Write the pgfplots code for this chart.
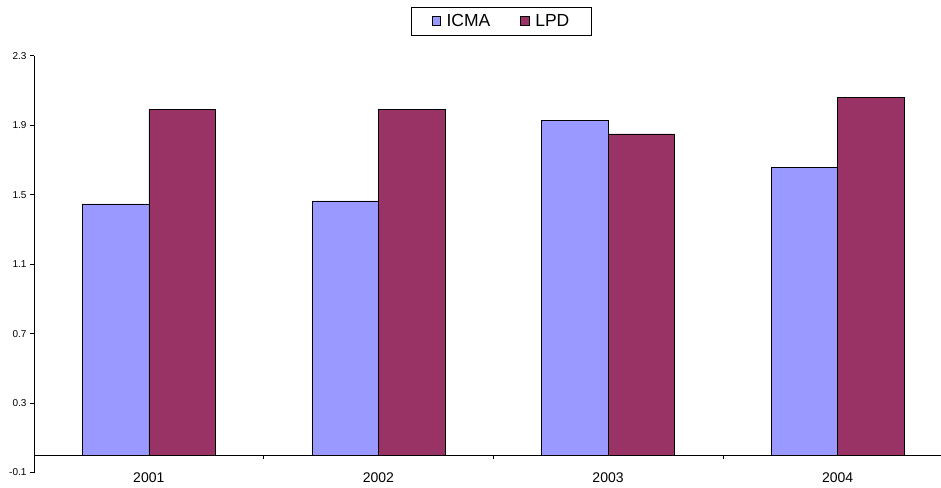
\documentclass[border=0pt]{standalone}
\usepackage{pgfplots}
\pgfplotsset{compat=1.18}
\usepackage{fontspec}
\setmainfont{Liberation Sans}
\definecolor{icma}{HTML}{9999FF}
\definecolor{lpd}{HTML}{993366}
\begin{document}
\begin{tikzpicture}
\begin{axis}[
  scale only axis, width=907pt, height=416.8pt,
  at={(0,0)}, anchor=south west,
  xmin=0.5, xmax=4.45, ymin=-0.1, ymax=2.3,
  axis x line=middle, axis y line=left,
  axis line style={-, line width=0.7pt},
  tick align=outside, major tick length=4pt,
  tick style={line width=0.6pt, black},
  ytick={-0.1,0.3,0.7,1.1,1.5,1.9,2.3},
  yticklabel style={font=\fontsize{10}{11}\selectfont, /pgf/number format/.cd, fixed, fixed zerofill, precision=1, assume math mode=true},
  xtick={1.5,2.5,3.5}, xticklabels={},
  extra x ticks={1,2,3,4},
  extra x tick labels={2001,2002,2003,2004},
  extra x tick style={major tick length=0pt, xticklabel style={font=\fontsize{14}{16}\selectfont, yshift=-14pt}},
  ybar, bar width=0.289,
  legend columns=2,
  legend style={at={(rel axis cs:0.5154,1.0833)}, anchor=center, draw=black, line width=0.6pt,
    font=\fontsize{17.5}{19}\selectfont, inner xsep=20pt, inner ysep=5pt,
    /tikz/every odd column/.append style={column sep=4pt},
    /tikz/every even column/.append style={column sep=28pt}},
]
\addplot[fill=icma, draw=black, line width=0.5pt, bar shift=-0.1445,
  legend image code/.code={\draw[fill=icma,draw=black,line width=0.5pt] (0pt,-4.5pt) rectangle (8.5pt,4.5pt);}]
  coordinates {(1,1.447) (2,1.464) (3,1.927) (4,1.655)};
\addplot[fill=lpd, draw=black, line width=0.5pt, bar shift=0.1445,
  legend image code/.code={\draw[fill=lpd,draw=black,line width=0.5pt] (0pt,-4.5pt) rectangle (8.5pt,4.5pt);}]
  coordinates {(1,1.99) (2,1.99) (3,1.85) (4,2.058)};
\legend{ICMA,LPD}
\end{axis}
\pgfresetboundingbox
\path (-34pt,-14.5pt) rectangle (907pt,472.5pt);
\end{tikzpicture}
\end{document}
